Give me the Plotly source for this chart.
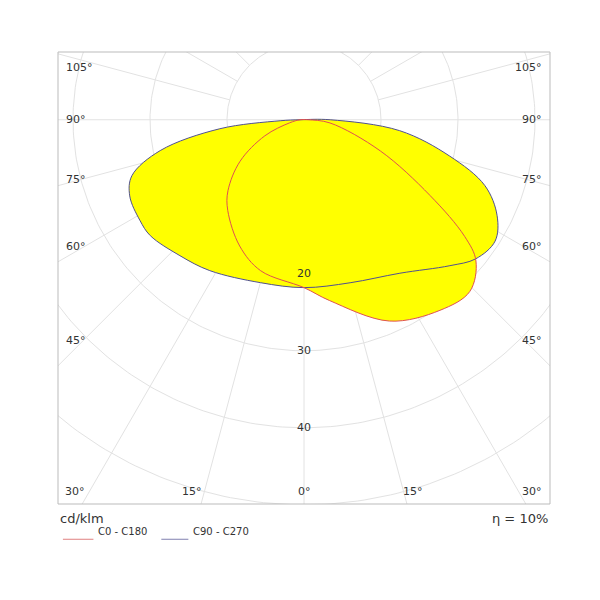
import numpy as np
import plotly.graph_objects as go

# intensity (cd/klm) per angle from nadir
c0_ang = [0, 8, 23, 35.5, 44, 50.6, 54, 59, 67.8, 83, 90]
c0_val = [21.8, 23.7, 28.4, 30.4, 31.0, 28.9, 25.8, 19.1, 10.7, 3.4, 0.5]
c180_ang = [0, 16, 27, 40, 47, 57, 67.7, 78, 90]
c180_val = [21.8, 20.4, 18.4, 15.4, 13.5, 9.9, 5.5, 1.9, 0.5]
c90_ang = [0, 15.8, 32, 45, 51, 57.6, 63.6, 70, 76, 83.5, 90]
c90_val = [21.8, 22.0, 23.5, 26.8, 28.7, 29.4, 28.0, 25.0, 19.5, 12.5, 3.4]
c270_ang = [0, 15, 32, 42.4, 53, 58.4, 66.4, 72, 77.9, 83.9, 87.6, 90]
c270_val = [21.8, 21.9, 23.1, 23.9, 25.0, 25.0, 24.7, 23.5, 19.1, 11.0, 3.1, 0.5]

ring_vals = [10, 20, 30, 40, 50, 60]
ring_labels = ["20", "30", "40"]
side_labels = ["105°", "90°", "75°", "60°", "45°"]
side_label_y = [6.75, 0, -7.8, -16.5, -28.7]
bottom_labels = ["30°", "15°", "0°", "15°", "30°"]
bottom_label_x = [-29.7, -14.5, 0, 14.2, 29.6]


def half(ang, val, sign):
    a = np.radians(ang)
    return sign * np.array(val) * np.sin(a), -np.array(val) * np.cos(a)


def closed(right_a, right_v, left_a, left_v):
    xr, yr = half(right_a, right_v, 1)
    xl, yl = half(left_a, left_v, -1)
    x = list(xr) + list(xl[::-1])
    y = list(yr) + list(yl[::-1])
    return x, y


fig = go.Figure()
grid = "#e2e2e2"

# grid rings and rays (rays start at the first ring)
t = np.linspace(0, 2 * np.pi, 361)
for r in ring_vals:
    fig.add_trace(go.Scatter(x=r * np.sin(t), y=r * np.cos(t), mode="lines",
                             line=dict(color=grid, width=1), hoverinfo="skip"))
for a in range(0, 360, 15):
    ar = np.radians(a)
    r0 = 0 if a in (0, 90, 270) else 10
    fig.add_trace(go.Scatter(x=[r0 * np.sin(ar), 80 * np.sin(ar)],
                             y=[-r0 * np.cos(ar), -80 * np.cos(ar)], mode="lines",
                             line=dict(color=grid, width=1), hoverinfo="skip"))

red_x, red_y = closed(c0_ang, c0_val, c180_ang, c180_val)
blue_x, blue_y = closed(c90_ang, c90_val, c270_ang, c270_val)

for x, y in [(blue_x, blue_y), (red_x, red_y)]:
    fig.add_trace(go.Scatter(x=x, y=y, mode="lines", fill="toself", fillcolor="#ffff00",
                             line=dict(width=0, shape="spline"), hoverinfo="skip"))
fig.add_trace(go.Scatter(x=blue_x, y=blue_y, mode="lines",
                         line=dict(color="#505090", width=1, shape="spline")))
fig.add_trace(go.Scatter(x=red_x, y=red_y, mode="lines",
                         line=dict(color="#e05050", width=1, shape="spline")))

font = dict(family="DejaVu Sans", size=11, color="#333333")
ann = []
for lab, r in zip(ring_labels, [20, 30, 40]):
    ann.append(dict(x=0, y=-r, text=lab, showarrow=False, font=font, xref="x", yref="y"))
for lab, yy in zip(side_labels, side_label_y):
    for xx, anc in [(-31.2, "left"), (31.2, "right")]:
        ann.append(dict(x=xx, y=yy, text=lab, showarrow=False, font=font, xanchor=anc,
                        xref="x", yref="y"))
for lab, xx in zip(bottom_labels, bottom_label_x):
    ann.append(dict(x=xx, y=-48.3, text=lab, showarrow=False, font=font, xref="x", yref="y"))
big = dict(family="DejaVu Sans", size=13, color="#333")
small = dict(family="DejaVu Sans", size=10, color="#333")
ann.append(dict(x=0, y=-0.053, xref="paper", yref="paper", text="cd/klm", showarrow=False,
                xanchor="left", font=big))
ann.append(dict(x=1, y=-0.053, xref="paper", yref="paper", text="η = 10%", showarrow=False,
                xanchor="right", font=big))
ann.append(dict(x=0.078, y=-0.078, xref="paper", yref="paper", text="C0 - C180", showarrow=False,
                xanchor="left", font=small))
ann.append(dict(x=0.27, y=-0.078, xref="paper", yref="paper", text="C90 - C270", showarrow=False,
                xanchor="left", font=small))

shapes = [
    dict(type="rect", xref="paper", yref="paper", x0=0, y0=0, x1=1, y1=1,
         line=dict(color="#bbbbbb", width=1)),
    dict(type="line", xref="paper", yref="paper", x0=0.01, x1=0.072, y0=-0.078, y1=-0.078,
         line=dict(color="#e08080", width=1)),
    dict(type="line", xref="paper", yref="paper", x0=0.21, x1=0.265, y0=-0.078, y1=-0.078,
         line=dict(color="#8080b0", width=1)),
]

fig.update_layout(
    width=600, height=600, showlegend=False,
    plot_bgcolor="white", paper_bgcolor="white",
    margin=dict(l=50, r=58, t=44, b=104),
    xaxis=dict(range=[-31.95, 31.95], visible=False, showgrid=False),
    yaxis=dict(range=[-49.9, 8.8], visible=False, showgrid=False),
    annotations=ann, shapes=shapes,
)
fig.write_html("out.html")
